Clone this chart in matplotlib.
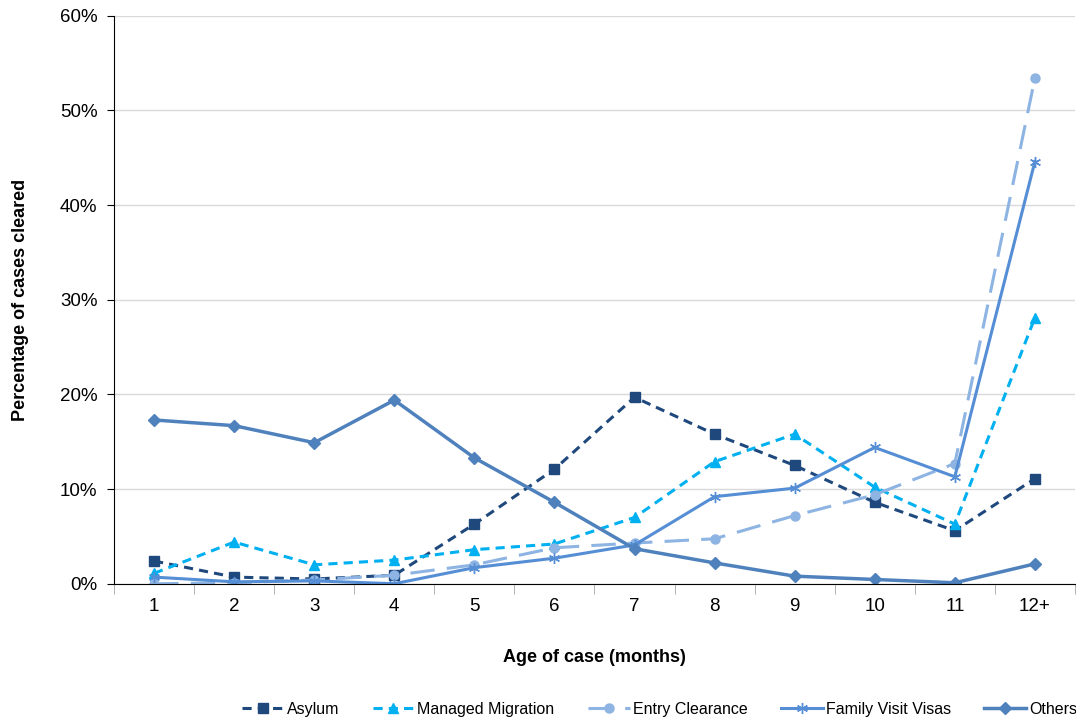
import matplotlib.pyplot as plt
import numpy as np

plt.rcParams['font.family'] = ['Liberation Sans', 'DejaVu Sans']

# data (percent of cases cleared)
months = ['1', '2', '3', '4', '5', '6', '7', '8', '9', '10', '11', '12+']
asylum = [2.4, 0.7, 0.5, 0.9, 6.3, 12.1, 19.7, 15.8, 12.5, 8.6, 5.6, 11.1]
managed = [1.1, 4.4, 2.0, 2.5, 3.6, 4.2, 7.0, 12.9, 15.8, 10.2, 6.3, 28.1]
entry = [0.0, 0.1, 0.4, 0.9, 2.0, 3.8, 4.3, 4.75, 7.2, 9.4, 12.7, 53.4]
family = [0.7, 0.2, 0.3, 0.0, 1.7, 2.7, 4.1, 9.2, 10.1, 14.4, 11.3, 44.6]
others = [17.3, 16.7, 14.9, 19.4, 13.3, 8.6, 3.7, 2.2, 0.8, 0.45, 0.1, 2.1]

fig = plt.figure(figsize=(10.76, 7.18), dpi=100)
ax = fig.add_axes([0.106, 0.187, 0.893, 0.791])

x = np.arange(len(months))

ax.plot(x, asylum, color='#1F497D', lw=2.2, ls=(0, (3, 2)), marker='s', ms=6.5, label='Asylum')
ax.plot(x, managed, color='#00B0F0', lw=2.2, ls=(0, (3, 2)), marker='^', ms=7, label='Managed Migration')
ax.plot(x, entry, color='#8DB4E2', lw=2.2, ls=(0, (8, 4)), marker='o', ms=6.5, label='Entry Clearance')
ax.plot(x, family, color='#558ED5', lw=2.2, ls='-', marker=(6, 2, 0), ms=8, mew=1, label='Family Visit Visas')
ax.plot(x, others, color='#4F81BD', lw=2.5, ls='-', marker='D', ms=6.5, label='Others')

ax.set_xlim(-0.5, len(months) - 0.5)
ax.set_ylim(0, 60)
ax.set_yticks(np.arange(0, 61, 10))
ax.set_yticklabels(['{}%'.format(v) for v in range(0, 61, 10)])
ax.set_xticks(x)
ax.set_xticklabels(months)
ax.set_xticks(np.arange(-0.5, len(months)), minor=True)
ax.tick_params(axis='x', which='major', length=0, pad=10, labelsize=13.5)
ax.tick_params(axis='x', which='minor', length=7, color='#A6A6A6')
ax.tick_params(axis='y', length=5, labelsize=13.5, pad=7)

ax.grid(axis='y', color='#D9D9D9', lw=1)
ax.set_axisbelow(True)
for s in ['top', 'right']:
    ax.spines[s].set_visible(False)
ax.spines['left'].set_color('black')
ax.spines['bottom'].set_color('black')

ax.set_xlabel('Age of case (months)', fontsize=13, fontweight='bold', labelpad=25)
ax.set_ylabel('Percentage of cases cleared', fontsize=13, fontweight='bold')
ax.yaxis.set_label_coords(-0.089, 0.5)

fig.legend(loc='lower center', bbox_to_anchor=(0.613, -0.018), ncol=5, frameon=False,
           fontsize=11.5, handlelength=2.6, columnspacing=2.1, handletextpad=0.2)

fig.savefig('out.png', dpi=100)
